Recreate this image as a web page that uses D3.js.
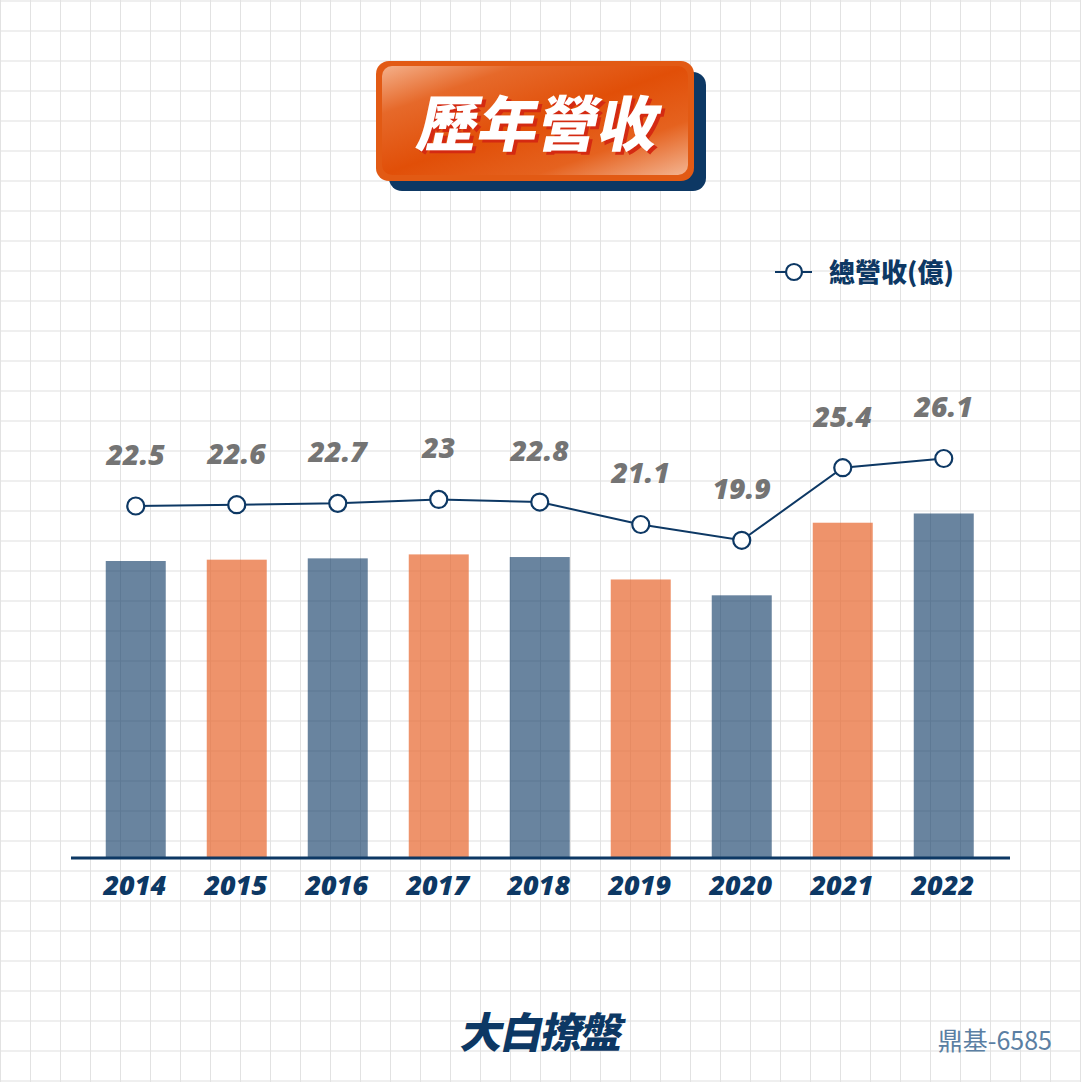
<!DOCTYPE html>
<html><head><meta charset="utf-8">
<script src="https://cdn.jsdelivr.net/npm/d3@7"></script>
<style>html,body{margin:0;padding:0;background:#fff;}svg{display:block;}</style>
</head><body>
<script>
const years = ["2014","2015","2016","2017","2018","2019","2020","2021","2022"];
const revenue = [22.5, 22.6, 22.7, 23, 22.8, 21.1, 19.9, 25.4, 26.1];
const barColors = ["blue","orange","blue","orange","blue","orange","blue","orange","blue"];
const legendLabel = "總營收(億)";
const titleText = "歷年營收";
const logoText = "大白撩盤";
const stockText = "鼎基-6585";

const W = 1081, H = 1082;
const svg = d3.select("body").append("svg").attr("width", W).attr("height", H);
const defs = svg.append("defs");

// grid background
const gridG = svg.append("g");
for (let y = 0; y <= H; y += 30) gridG.append("rect").attr("x",0).attr("y",y).attr("width",W).attr("height",2).attr("fill","#efefef");
for (let x = 0; x <= W; x += 30) gridG.append("rect").attr("x",x).attr("y",0).attr("width",1).attr("height",H).attr("fill","#e2e2e2");

// scales
const x = d3.scaleBand().domain(years).range([85.5, 994]).paddingInner(0.405).paddingOuter(0.2);
const yBar = d3.scaleLinear().domain([0, 65]).range([858, 858 - 65*13.2]);
const yLine = d3.scaleLinear().domain([0, 65]).range([858 - 55, 858 - 55 - 65*13.2]);
const colorMap = {blue: "rgba(13,56,100,0.62)", orange: "rgba(232,106,50,0.72)"};
const numFont = "'Open Sans', 'Noto Sans', sans-serif";

// bars
svg.append("g").selectAll("rect").data(years).join("rect")
  .attr("x", d => x(d) + (x.bandwidth() - 60)/2)
  .attr("width", 60)
  .attr("y", (d,i) => yBar(revenue[i]))
  .attr("height", (d,i) => yBar(0) - yBar(revenue[i]))
  .attr("fill", (d,i) => colorMap[barColors[i]]);

// axis
const axis = d3.axisBottom(x).tickSize(0).tickPadding(18);
const axG = svg.append("g").attr("transform","translate(0,858)").call(axis);
axG.select(".domain").remove();
axG.selectAll("text").attr("font-family",numFont).attr("font-weight","800").attr("font-style","italic")
  .attr("font-size", 27).attr("fill","#0d3864").attr("dy","0.71em").attr("dx", -1);
svg.append("line").attr("x1",71).attr("x2",1010).attr("y1",858).attr("y2",858).attr("stroke","#0d3864").attr("stroke-width",3);

// line
const cx = d => x(d) + x.bandwidth()/2;
const line = d3.line().x((d,i) => cx(years[i])).y(d => yLine(d));
svg.append("path").datum(revenue).attr("d", line).attr("fill","none").attr("stroke","#0d3864").attr("stroke-width",2);
svg.append("g").selectAll("circle").data(revenue).join("circle")
  .attr("cx",(d,i)=>cx(years[i])).attr("cy",d=>yLine(d)).attr("r",8.5)
  .attr("fill","#fff").attr("stroke","#0d3864").attr("stroke-width",2.2);
svg.append("g").selectAll("text").data(revenue).join("text")
  .attr("x",(d,i)=>cx(years[i])).attr("y",d=>yLine(d) - 41)
  .attr("text-anchor","middle")
  .attr("font-family",numFont).attr("font-weight","800").attr("font-style","italic")
  .attr("font-size",28.5).attr("fill","#747474").text(d => d);

// legend
const lg = svg.append("g");
lg.append("line").attr("x1",775).attr("x2",812).attr("y1",272).attr("y2",272).attr("stroke","#0d3864").attr("stroke-width",2);
lg.append("circle").attr("cx",794).attr("cy",272).attr("r",8).attr("fill","#fff").attr("stroke","#0d3864").attr("stroke-width",2.2);
lg.append("text").attr("x",829).attr("y",282).attr("font-family","'Noto Sans CJK TC', sans-serif").attr("font-weight","900")
  .attr("font-size",26).attr("fill","#0d3864").text(legendLabel);

// title box
const grad = defs.append("linearGradient").attr("id","tg").attr("x1","0").attr("y1","0").attr("x2","1").attr("y2","1");
grad.append("stop").attr("offset","0").attr("stop-color","#f4b08a");
grad.append("stop").attr("offset","0.22").attr("stop-color","#e6692a");
grad.append("stop").attr("offset","0.5").attr("stop-color","#e14f08");
grad.append("stop").attr("offset","0.75").attr("stop-color","#e5621f");
grad.append("stop").attr("offset","1").attr("stop-color","#f3b491");
svg.append("rect").attr("x",389).attr("y",72).attr("width",317).attr("height",119).attr("rx",13).attr("fill","#0d3864");
svg.append("rect").attr("x",376).attr("y",61).attr("width",318).attr("height",120).attr("rx",13).attr("fill","#e25a14");
svg.append("rect").attr("x",382).attr("y",66).attr("width",306).attr("height",109).attr("rx",10).attr("fill","url(#tg)");
const tt = svg.append("g").attr("transform","translate(535,146) skewX(-12)");
tt.append("text").attr("x",4).attr("y",3).attr("text-anchor","middle").attr("font-family","'Noto Sans CJK TC', sans-serif")
  .attr("font-weight","900").attr("font-size",60).attr("fill","#d42a12").text(titleText);
tt.append("text").attr("x",0).attr("y",0).attr("text-anchor","middle").attr("font-family","'Noto Sans CJK TC', sans-serif")
  .attr("font-weight","900").attr("font-size",60).attr("fill","#fff").text(titleText);

// logo
svg.append("g").attr("transform","translate(539,1048) skewX(-12)").append("text")
  .attr("text-anchor","middle").attr("font-family","'Noto Sans CJK TC', sans-serif").attr("font-weight","900")
  .attr("font-size",42).attr("fill","#0d3864").attr("letter-spacing",-2).text(logoText);

// stock label
svg.append("text").attr("x",1052).attr("y",1050).attr("text-anchor","end")
  .attr("font-family","'Noto Sans CJK TC', sans-serif").attr("font-weight","400").attr("font-size",25)
  .attr("fill","#5b7fa3").text(stockText);
</script>
</body></html>
